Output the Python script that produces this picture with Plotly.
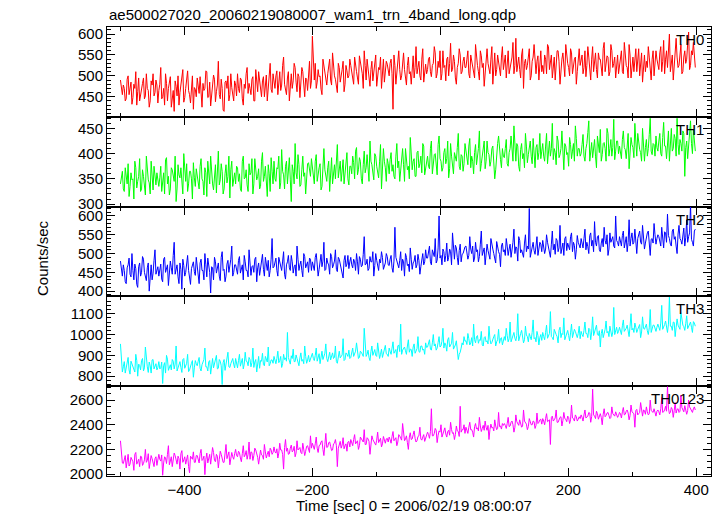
import numpy as np
import plotly.graph_objects as go
from plotly.subplots import make_subplots

# time bins (sec), 1.5 s step; "a" values sit on even bins, "b" values on odd bins
time = np.arange(-500, 399, 1.5)

th0_a = [
490, 455, 470, 445, 500, 468, 432, 480, 510, 462, 440, 475, 495, 452, 470, 425, 488, 505, 460, 478,
465, 520, 450, 430, 482, 470, 498, 445, 415, 475, 500, 460, 488, 437, 470, 512, 455, 480, 420, 468,
495, 458, 440, 482, 470, 510, 450, 428, 475, 492, 462, 535, 445, 470, 415, 488, 500, 455, 472, 440,
478, 505, 460, 490, 430, 470, 520, 482, 455, 498, 440, 476, 510, 465, 488, 450, 502, 472, 530, 460,
485, 500, 455, 510, 478, 545, 470, 495, 440, 505, 488, 520, 462, 498, 475, 510, 450, 492, 505, 470,
595, 490, 470, 515, 500, 455, 525, 485, 505, 540, 478, 510, 492, 460, 520, 498, 535, 480, 512, 500,
525, 495, 545, 510, 480, 530, 505, 560, 490, 520, 475, 535, 508, 550, 498, 515, 470, 540, 512, 528,
500, 540, 420, 525, 505, 560, 490, 530, 515, 478, 545, 510, 535, 495, 570, 520, 500, 540, 485, 528,
515, 545, 498, 530, 555, 505, 520, 490, 560, 525, 540, 500, 578, 515, 535, 480, 530, 550, 510, 545,
520, 560, 495, 535, 510, 575, 525, 490, 548, 530, 505, 565, 520, 540, 480, 555, 515, 535, 500, 570,
530, 495, 560, 520, 545, 505, 590, 530, 515, 550, 470, 540, 525, 565, 500, 545, 520, 535, 490, 560,
525, 550, 505, 570, 530, 495, 545, 520, 560, 480, 540, 515, 575, 530, 500, 555, 525, 545, 510, 565,
535, 505, 560, 525, 545, 490, 570, 530, 515, 555, 540, 500, 580, 525, 545, 510, 560, 530, 495, 550,
525, 560, 505, 540, 520, 575, 495, 545, 530, 510, 565, 525, 485, 550, 535, 570, 515, 540, 500, 560,
530, 555, 510, 585, 540, 520, 600, 535, 490, 565, 545, 525, 575, 510, 560, 540, 605, 525, 550, 545,
]
th0_b = [
462, 478, 440, 492, 455, 485, 448, 470, 430, 495, 458, 482, 445, 505, 465, 440, 478, 452, 490, 435,
480, 445, 470, 505, 440, 492, 425, 465, 488, 452, 430, 478, 515, 448, 495, 465, 435, 500, 472, 450,
470, 498, 425, 465, 512, 448, 485, 460, 502, 438, 478, 455, 492, 418, 485, 470, 440, 505, 458, 488,
452, 470, 495, 445, 480, 505, 458, 470, 492, 440, 515, 462, 485, 450, 498, 475, 440, 490, 468, 505,
470, 512, 490, 465, 525, 480, 455, 510, 492, 470, 530, 485, 505, 448, 520, 478, 495, 465, 535, 488,
510, 530, 485, 498, 468, 540, 505, 478, 520, 490, 555, 500, 470, 530, 485, 515, 462, 525, 495, 540,
505, 480, 520, 495, 548, 512, 470, 525, 540, 495, 515, 488, 530, 475, 520, 545, 500, 485, 535, 510,
530, 505, 550, 480, 540, 515, 500, 555, 490, 525, 505, 480, 548, 520, 505, 535, 490, 565, 515, 505,
540, 510, 525, 570, 495, 535, 560, 505, 520, 488, 545, 530, 510, 550, 495, 520, 565, 505, 535, 520,
540, 505, 550, 520, 495, 545, 510, 560, 520, 475, 540, 530, 505, 570, 525, 500, 550, 520, 545, 515,
550, 520, 505, 540, 580, 525, 510, 545, 495, 565, 530, 515, 550, 490, 535, 575, 505, 548, 525, 510,
505, 540, 575, 515, 550, 525, 490, 560, 535, 515, 555, 498, 540, 520, 565, 505, 540, 480, 550, 525,
550, 520, 498, 570, 515, 540, 510, 555, 495, 540, 520, 565, 510, 548, 500, 575, 520, 545, 525, 505,
545, 510, 580, 525, 495, 550, 530, 510, 565, 540, 500, 555, 530, 510, 520, 545, 490, 560, 525, 540,
515, 570, 535, 505, 560, 580, 510, 550, 525, 590, 520, 560, 505, 545, 530, 575, 515, 560, 580, 520,
]

th1_a = [
340, 365, 325, 352, 380, 335, 348, 310, 372, 345, 390, 330, 355, 318, 368, 342, 385, 328, 350, 362,
335, 375, 348, 320, 392, 355, 330, 368, 345, 305, 378, 352, 338, 400, 345, 325, 365, 350, 382, 335,
358, 330, 390, 345, 372, 315, 360, 395, 340, 352, 322, 405, 348, 365, 330, 378, 355, 312, 385, 350,
340, 372, 360, 325, 395, 352, 338, 380, 362, 320, 390, 348, 370, 335, 402, 355, 342, 378, 325, 365,
385, 345, 370, 330, 408, 358, 375, 340, 392, 305, 365, 420, 350, 378, 338, 395, 362, 345, 382, 355,
370, 340, 398, 362, 380, 335, 410, 358, 372, 325, 392, 365, 350, 418, 370, 345, 388, 360, 402, 338,
375, 395, 350, 412, 368, 385, 340, 405, 372, 360, 425, 378, 348, 395, 365, 385, 330, 410, 372, 390,
360, 402, 378, 350, 420, 385, 365, 410, 345, 392, 375, 432, 368, 390, 355, 405, 380, 362, 415, 372,
395, 370, 425, 382, 400, 358, 435, 385, 372, 410, 390, 352, 420, 378, 402, 385, 440, 368, 395, 380,
405, 378, 430, 395, 360, 418, 392, 445, 380, 408, 370, 425, 398, 385, 415, 350, 402, 435, 388, 410,
392, 428, 375, 410, 398, 455, 385, 415, 365, 420, 400, 440, 382, 408, 395, 430, 372, 418, 402, 390,
420, 385, 440, 405, 395, 460, 410, 378, 425, 398, 445, 368, 415, 402, 432, 390, 420, 455, 395, 410,
400, 438, 385, 420, 465, 405, 392, 428, 372, 415, 448, 398, 422, 385, 440, 410, 395, 468, 405, 425,
415, 390, 445, 408, 425, 370, 432, 412, 460, 395, 420, 402, 450, 385, 428, 410, 470, 398, 418, 435,
405, 440, 395, 462, 415, 425, 385, 450, 410, 430, 470, 398, 420, 445, 355, 425, 410, 465, 400, 430,
]
th1_b = [
358, 330, 372, 340, 315, 362, 350, 385, 332, 355, 325, 368, 340, 395, 348, 320, 360, 375, 338, 350,
352, 325, 362, 388, 340, 318, 372, 350, 395, 330, 358, 372, 320, 355, 380, 340, 365, 310, 352, 370,
338, 375, 350, 318, 362, 385, 340, 355, 328, 378, 365, 338, 380, 320, 360, 342, 395, 368, 335, 362,
375, 345, 330, 385, 350, 368, 325, 358, 390, 340, 370, 355, 330, 385, 345, 375, 315, 360, 392, 340,
350, 372, 395, 342, 365, 330, 385, 360, 348, 378, 340, 362, 398, 335, 368, 355, 320, 380, 365, 390,
355, 385, 345, 372, 328, 395, 368, 345, 385, 360, 340, 378, 402, 352, 385, 365, 340, 395, 350, 375,
360, 382, 405, 358, 392, 350, 378, 362, 398, 345, 385, 360, 400, 375, 352, 418, 368, 385, 345, 380,
388, 365, 355, 395, 372, 345, 398, 378, 410, 368, 350, 392, 385, 355, 402, 372, 395, 420, 358, 390,
375, 410, 360, 398, 372, 418, 390, 365, 402, 380, 425, 370, 395, 360, 388, 412, 375, 398, 365, 420,
390, 415, 372, 385, 402, 378, 410, 365, 398, 425, 385, 402, 375, 410, 390, 368, 420, 398, 372, 395,
410, 380, 402, 435, 385, 398, 420, 375, 408, 390, 372, 415, 398, 425, 380, 400, 412, 388, 440, 405,
395, 415, 380, 425, 410, 388, 402, 435, 392, 410, 385, 420, 398, 375, 418, 405, 385, 430, 410, 395,
418, 395, 410, 442, 385, 422, 408, 395, 435, 402, 385, 420, 410, 450, 395, 428, 412, 388, 425, 400,
400, 428, 412, 390, 440, 405, 418, 392, 425, 440, 408, 385, 422, 412, 395, 438, 405, 420, 395, 412,
425, 400, 432, 415, 390, 445, 420, 405, 438, 395, 418, 428, 405, 440, 412, 390, 435, 420, 448, 405,
]

th2_a = [
480, 440, 455, 420, 470, 445, 500, 430, 460, 410, 475, 450, 485, 435, 462, 400, 470, 448, 510, 455,
440, 472, 425, 490, 458, 415, 480, 445, 530, 462, 438, 475, 405, 468, 450, 495, 430, 460, 478, 442,
465, 420, 485, 455, 500, 438, 470, 395, 462, 490, 448, 475, 428, 505, 458, 440, 482, 465, 520, 450,
470, 445, 492, 460, 430, 478, 455, 510, 442, 468, 485, 425, 475, 458, 498, 440, 470, 482, 455, 540,
465, 488, 440, 475, 455, 505, 432, 478, 462, 495, 448, 470, 520, 455, 480, 438, 492, 468, 450, 485,
478, 455, 500, 440, 482, 465, 530, 458, 475, 445, 492, 470, 510, 452, 485, 468, 435, 495, 472, 460,
490, 462, 478, 500, 445, 485, 468, 545, 472, 455, 492, 478, 440, 500, 465, 485, 505, 458, 475, 492,
468, 495, 450, 570, 478, 462, 505, 485, 440, 490, 472, 515, 458, 480, 462, 498, 445, 485, 470, 510,
488, 520, 470, 500, 540, 482, 600, 495, 512, 478, 528, 490, 505, 555, 485, 515, 470, 525, 498, 510,
520, 485, 545, 500, 478, 530, 510, 492, 560, 505, 470, 525, 498, 540, 512, 488, 532, 505, 465, 528,
510, 540, 495, 525, 505, 565, 518, 480, 535, 510, 490, 550, 520, 620, 505, 530, 498, 545, 512, 525,
535, 500, 550, 518, 490, 560, 525, 540, 505, 575, 520, 495, 545, 528, 510, 555, 530, 485, 548, 520,
540, 515, 565, 530, 500, 555, 535, 585, 520, 548, 505, 540, 570, 525, 495, 555, 538, 520, 600, 530,
545, 520, 560, 535, 505, 590, 540, 525, 565, 500, 550, 530, 575, 512, 545, 560, 495, 540, 580, 525,
550, 530, 570, 515, 555, 605, 540, 520, 565, 545, 500, 575, 535, 560, 520, 590, 545, 630, 530, 560,
]
th2_b = [
455, 470, 425, 462, 488, 438, 455, 472, 418, 465, 440, 492, 450, 428, 475, 455, 430, 482, 445, 465,
460, 432, 485, 450, 470, 440, 462, 495, 445, 470, 420, 458, 485, 440, 475, 455, 418, 470, 452, 490,
448, 475, 455, 430, 470, 488, 450, 465, 430, 478, 460, 440, 490, 455, 425, 472, 450, 485, 440, 470,
455, 482, 448, 470, 495, 455, 438, 480, 465, 450, 490, 462, 442, 480, 458, 490, 455, 438, 485, 462,
478, 455, 490, 462, 480, 445, 470, 495, 455, 478, 465, 440, 485, 470, 455, 500, 462, 478, 488, 455,
465, 490, 472, 458, 498, 480, 455, 488, 470, 500, 462, 480, 458, 490, 472, 450, 482, 465, 495, 478,
470, 485, 455, 478, 492, 465, 498, 470, 485, 460, 478, 505, 468, 482, 455, 475, 490, 465, 500, 470,
485, 462, 480, 490, 465, 482, 455, 478, 500, 468, 452, 485, 475, 495, 470, 482, 465, 500, 478, 488,
500, 478, 510, 492, 475, 515, 488, 470, 505, 495, 480, 512, 470, 498, 522, 490, 508, 478, 500, 518,
505, 495, 512, 520, 488, 505, 478, 525, 495, 515, 490, 508, 485, 520, 500, 475, 512, 498, 520, 505,
495, 520, 512, 490, 530, 500, 515, 545, 502, 495, 528, 505, 512, 490, 525, 508, 520, 495, 530, 505,
520, 512, 530, 505, 525, 510, 498, 535, 515, 500, 528, 540, 508, 520, 545, 505, 522, 510, 530, 515,
525, 540, 510, 518, 548, 520, 505, 530, 545, 510, 528, 518, 535, 550, 512, 530, 545, 515, 535, 520,
530, 548, 515, 545, 530, 520, 555, 530, 515, 540, 560, 525, 540, 528, 555, 520, 538, 528, 550, 540,
545, 520, 540, 558, 530, 548, 525, 560, 538, 520, 552, 540, 525, 568, 542, 530, 555, 538, 520, 565,
]

th3_a = [
955, 820, 870, 835, 890, 810, 860, 840, 905, 800, 852, 875, 825, 940, 845, 868, 815, 880, 850, 830,
870, 840, 765, 865, 900, 828, 855, 880, 835, 945, 842, 870, 818, 885, 855, 905, 830, 862, 795, 875,
850, 890, 825, 870, 935, 845, 868, 810, 885, 860, 900, 838, 872, 760, 880, 855, 915, 842, 870, 858,
885, 840, 905, 862, 835, 915, 870, 890, 845, 935, 868, 820, 895, 875, 910, 850, 882, 940, 860, 878,
895, 860, 920, 875, 842, 905, 888, 1010, 865, 898, 930, 870, 885, 850, 912, 880, 945, 862, 900, 885,
910, 875, 935, 890, 860, 920, 898, 955, 870, 915, 900, 885, 945, 862, 920, 895, 980, 880, 905, 925,
890, 935, 905, 960, 885, 920, 900, 1030, 895, 925, 875, 945, 912, 900, 960, 885, 930, 915, 948, 905,
935, 905, 965, 920, 890, 950, 1050, 925, 940, 905, 975, 930, 895, 955, 920, 990, 915, 945, 930, 960,
940, 975, 925, 1000, 955, 935, 990, 945, 1030, 960, 920, 985, 950, 1010, 940, 970, 880, 915, 960, 990,
970, 1005, 950, 985, 1050, 960, 995, 975, 1015, 945, 990, 970, 1040, 955, 985, 1000, 965, 1025, 980, 950,
990, 1030, 965, 1060, 985, 1010, 970, 1100, 995, 1020, 960, 1040, 990, 1005, 975, 1070, 985, 1015, 950, 1000,
1010, 975, 1045, 995, 1110, 985, 1025, 1000, 960, 1035, 1005, 1080, 990, 1020, 970, 1050, 1000, 1015, 985, 1040,
1015, 990, 1060, 1005, 1030, 975, 1085, 1010, 1045, 995, 940, 1025, 1000, 1065, 1015, 1040, 990, 1130, 1020, 1005,
1035, 1000, 1070, 1020, 1045, 990, 1100, 1030, 1055, 1010, 1040, 985, 1085, 1025, 1050, 1000, 1120, 1030, 1045, 1015,
1050, 1020, 1140, 1035, 1065, 1010, 1180, 1040, 1060, 990, 1075, 1030, 1105, 1045, 1020, 1090, 1040, 1060, 1010, 1055,
]
th3_b = [
880, 845, 815, 862, 830, 872, 845, 820, 875, 858, 830, 885, 840, 862, 818, 850, 878, 835, 860, 842,
835, 868, 850, 815, 882, 845, 830, 872, 858, 825, 865, 842, 880, 838, 862, 822, 855, 875, 840, 860,
872, 838, 855, 880, 845, 825, 875, 862, 840, 870, 835, 880, 850, 865, 828, 875, 845, 860, 885, 840,
860, 875, 848, 885, 858, 872, 850, 880, 865, 842, 880, 860, 838, 872, 855, 895, 868, 850, 878, 862,
870, 885, 865, 895, 860, 880, 872, 890, 858, 885, 870, 902, 865, 888, 872, 860, 895, 878, 868, 890,
885, 900, 872, 908, 890, 880, 910, 885, 900, 878, 912, 890, 870, 905, 888, 902, 875, 912, 895, 885,
910, 895, 920, 905, 890, 915, 895, 925, 905, 890, 918, 900, 928, 895, 915, 905, 890, 922, 908, 895,
920, 935, 910, 928, 945, 918, 905, 935, 922, 945, 915, 928, 940, 910, 932, 918, 945, 925, 905, 938,
955, 930, 960, 945, 925, 962, 940, 968, 935, 950, 975, 940, 958, 930, 950, 925, 905, 935, 950, 968,
952, 980, 960, 945, 975, 990, 958, 972, 950, 985, 965, 955, 978, 962, 990, 945, 975, 958, 985, 970,
972, 995, 980, 965, 1000, 982, 995, 970, 1005, 985, 975, 998, 965, 990, 1010, 980, 965, 995, 985, 972,
990, 1010, 982, 1005, 990, 975, 1008, 990, 1020, 985, 1000, 975, 1012, 995, 1008, 985, 1025, 992, 1005, 980,
1000, 1020, 1005, 985, 1025, 1012, 995, 1030, 1000, 1018, 1005, 985, 1025, 1008, 990, 1020, 1012, 1000, 1035, 1015,
1020, 1042, 1015, 1030, 1008, 1040, 1022, 1010, 1035, 1025, 1048, 1012, 1030, 1040, 1018, 1032, 1010, 1045, 1022, 1035,
1035, 1055, 1025, 1048, 1030, 1050, 1040, 1020, 1058, 1035, 1045, 1025, 1060, 1038, 1052, 1028, 1048, 1035, 1062, 1040,
]

th0123_a = [
2270, 2090, 2130, 2050, 2160, 2080, 2120, 2030, 2175, 2100, 2060, 2140, 2085, 2200, 2110, 2045, 2150, 2095, 2125, 2070,
2160, 2105, 1990, 2140, 2085, 2230, 2120, 2060, 2170, 2100, 2145, 2040, 2190, 2115, 2080, 2155, 2010, 2135, 2180, 2095,
2150, 2090, 2200, 2120, 1995, 2170, 2140, 2080, 2215, 2110, 2160, 2050, 2185, 2130, 2095, 2240, 2145, 2075, 2175, 2120,
2200, 2140, 2175, 2100, 2230, 2155, 2120, 2260, 2180, 2110, 2210, 2165, 2080, 2195, 2150, 2240, 2130, 2185, 2210, 2160,
2220, 2170, 2130, 2250, 2195, 2040, 2280, 2210, 2165, 2235, 2190, 2140, 2270, 2205, 2175, 2250, 2150, 2225, 2195, 2310,
2250, 2200, 2300, 2175, 2235, 2270, 2150, 2330, 2220, 2260, 2190, 2245, 2280, 2060, 2240, 2210, 2295, 2230, 2185, 2265,
2280, 2230, 2320, 2255, 2200, 2300, 2270, 2360, 2240, 2285, 2160, 2310, 2260, 2235, 2340, 2275, 2220, 2305, 2250, 2290,
2300, 2250, 2345, 2280, 2230, 2320, 2290, 2410, 2270, 2310, 2200, 2335, 2285, 2350, 2260, 2305, 2380, 2275, 2320, 2295,
2340, 2290, 2530, 2310, 2370, 2255, 2350, 2400, 2320, 2375, 2300, 2355, 2420, 2330, 2280, 2390, 2345, 2550, 2360, 2400,
2380, 2330, 2420, 2360, 2300, 2410, 2375, 2460, 2345, 2395, 2430, 2355, 2280, 2405, 2380, 2440, 2360, 2500, 2390, 2410,
2410, 2370, 2460, 2390, 2430, 2340, 2480, 2400, 2440, 2380, 2520, 2415, 2360, 2450, 2400, 2430, 2370, 2495, 2420, 2445,
2450, 2400, 2490, 2430, 2240, 2470, 2440, 2520, 2420, 2460, 2390, 2500, 2445, 2470, 2410, 2560, 2450, 2480, 2430, 2465,
2480, 2430, 2520, 2460, 2500, 2420, 2690, 2470, 2510, 2445, 2490, 2400, 2530, 2475, 2500, 2450, 2545, 2480, 2505, 2460,
2500, 2455, 2540, 2485, 2520, 2440, 2560, 2495, 2380, 2525, 2490, 2580, 2470, 2515, 2545, 2480, 2600, 2505, 2530, 2470,
2520, 2480, 2620, 2505, 2550, 2710, 2490, 2540, 2460, 2580, 2525, 2500, 2640, 2515, 2555, 2485, 2600, 2530, 2500, 2545,
]
th0123_b = [
2130, 2085, 2150, 2110, 2065, 2135, 2100, 2160, 2080, 2120, 2145, 2070, 2115, 2095, 2165, 2085, 2125, 2060, 2140, 2105,
2120, 2155, 2090, 2130, 2160, 2075, 2140, 2105, 2150, 2080, 2125, 2165, 2095, 2140, 2110, 2060, 2145, 2120, 2095, 2150,
2125, 2165, 2110, 2145, 2120, 2090, 2160, 2130, 2175, 2100, 2145, 2120, 2160, 2095, 2150, 2125, 2180, 2115, 2140, 2165,
2150, 2185, 2130, 2165, 2140, 2190, 2160, 2120, 2175, 2150, 2195, 2135, 2170, 2155, 2120, 2180, 2160, 2140, 2195, 2175,
2180, 2205, 2170, 2195, 2160, 2215, 2185, 2160, 2210, 2180, 2225, 2170, 2195, 2215, 2165, 2200, 2185, 2230, 2175, 2210,
2215, 2245, 2210, 2230, 2260, 2200, 2240, 2215, 2255, 2225, 2195, 2250, 2230, 2210, 2265, 2235, 2205, 2245, 2260, 2220,
2255, 2280, 2245, 2270, 2230, 2285, 2260, 2240, 2295, 2265, 2250, 2280, 2240, 2275, 2255, 2290, 2245, 2270, 2285, 2260,
2280, 2305, 2270, 2295, 2260, 2310, 2275, 2300, 2285, 2255, 2300, 2280, 2320, 2290, 2270, 2310, 2285, 2300, 2265, 2315,
2320, 2345, 2310, 2330, 2355, 2315, 2340, 2300, 2350, 2325, 2345, 2315, 2360, 2335, 2320, 2350, 2305, 2340, 2360, 2330,
2355, 2380, 2360, 2340, 2385, 2365, 2350, 2390, 2370, 2355, 2380, 2395, 2360, 2375, 2350, 2390, 2370, 2385, 2365, 2395,
2395, 2410, 2385, 2420, 2400, 2380, 2425, 2395, 2410, 2390, 2430, 2405, 2385, 2415, 2400, 2425, 2395, 2410, 2440, 2405,
2430, 2450, 2425, 2440, 2460, 2430, 2455, 2420, 2445, 2465, 2435, 2450, 2425, 2460, 2440, 2455, 2430, 2465, 2445, 2450,
2460, 2480, 2455, 2470, 2495, 2465, 2480, 2450, 2490, 2470, 2460, 2485, 2465, 2495, 2475, 2460, 2490, 2470, 2485, 2475,
2490, 2505, 2480, 2510, 2495, 2475, 2505, 2490, 2515, 2480, 2500, 2495, 2520, 2485, 2505, 2490, 2515, 2500, 2485, 2510,
2505, 2530, 2500, 2520, 2510, 2535, 2500, 2525, 2515, 2495, 2530, 2510, 2540, 2505, 2525, 2515, 2545, 2510, 2530, 2520,
]

band_names = ["TH0", "TH1", "TH2", "TH3", "TH0123"]
band_colors = ["#ff0000", "#00ff00", "#0000ff", "#00ffff", "#ff00ff"]
series_a = [th0_a, th1_a, th2_a, th3_a, th0123_a]
series_b = [th0_b, th1_b, th2_b, th3_b, th0123_b]

x_range = [-521, 423]
y_ranges = [[402, 617], [295, 473], [386, 625], [752, 1183], [1984, 2713]]
y_dticks = [50, 50, 50, 100, 200]
y_minor = [10, 10, 10, 20, 50]

FONT = "Liberation Sans, Arial, Helvetica, sans-serif"

fig = make_subplots(rows=5, cols=1, shared_xaxes=True, vertical_spacing=0)

for i, col in enumerate(band_colors):
    vals = [v for pair in zip(series_a[i], series_b[i]) for v in pair]
    fig.add_trace(
        go.Scatter(x=time, y=vals, mode="lines",
                   line=dict(color=col, width=1), showlegend=False,
                   hoverinfo="skip"),
        row=i + 1, col=1)
    fig.update_yaxes(
        range=y_ranges[i], dtick=y_dticks[i], tick0=0,
        ticks="inside", ticklen=8, tickcolor="black",
        minor=dict(ticks="inside", ticklen=4, dtick=y_minor[i], tick0=0,
                   tickcolor="black", showgrid=False),
        showline=True, linecolor="black", linewidth=1, mirror="ticks",
        showgrid=False, zeroline=False,
        tickfont=dict(size=15, color="black", family=FONT),
        row=i + 1, col=1)
    fig.update_xaxes(
        range=x_range, dtick=200, tick0=0, showticklabels=(i == 4),
        ticks="inside", ticklen=8, tickcolor="black",
        minor=dict(ticks="inside", ticklen=4, dtick=100, tick0=0,
                   tickcolor="black", showgrid=False),
        showline=True, linecolor="black", linewidth=1, mirror="ticks",
        showgrid=False, zeroline=False,
        tickfont=dict(size=15, color="black", family=FONT),
        row=i + 1, col=1)

PX0, PX1, PY0, PY1 = 107, 711, 27, 476          # plot area in page pixels
W, H = 724, 516
L, T = PX0, PY0
R, B = W - PX1, H - PY1
pw, ph = PX1 - PX0, PY1 - PY0


def px(x):
    return (x - PX0) / pw


def py(y):
    return (PY1 - y) / ph


annotations = []
for i, name in enumerate(band_names):
    top_px = PY0 + i * ph / 5
    annotations.append(dict(
        text=name, xref="paper", yref="paper",
        x=px(706), y=py(top_px + 2), xanchor="right", yanchor="top",
        showarrow=False, font=dict(size=15, color="black", family=FONT)))

annotations.append(dict(
    text="ae500027020_20060219080007_wam1_trn_4band_long.qdp",
    xref="paper", yref="paper", x=px(107), y=py(14), xanchor="left",
    yanchor="middle", showarrow=False,
    font=dict(size=15, color="black", family=FONT)))
annotations.append(dict(
    text="Counts/sec", xref="paper", yref="paper",
    x=px(42), y=py(258), textangle=-90,
    xanchor="center", yanchor="middle", showarrow=False,
    font=dict(size=15, color="black", family=FONT)))
annotations.append(dict(
    text="Time [sec] 0 = 2006/02/19 08:00:07", xref="paper", yref="paper",
    x=px(414), y=py(506), xanchor="center",
    yanchor="middle", showarrow=False,
    font=dict(size=15, color="black", family=FONT)))

fig.update_layout(
    width=W, height=H,
    margin=dict(l=L, r=R, t=T, b=B, pad=0),
    paper_bgcolor="white", plot_bgcolor="white",
    annotations=annotations,
    font=dict(family=FONT, size=15, color="black"),
)

# remove the browser's default 8px page margin so the figure fills the window
fig.write_html("out.html",
               config={"displayModeBar": False},
               post_script="document.body.style.margin='0px';")
